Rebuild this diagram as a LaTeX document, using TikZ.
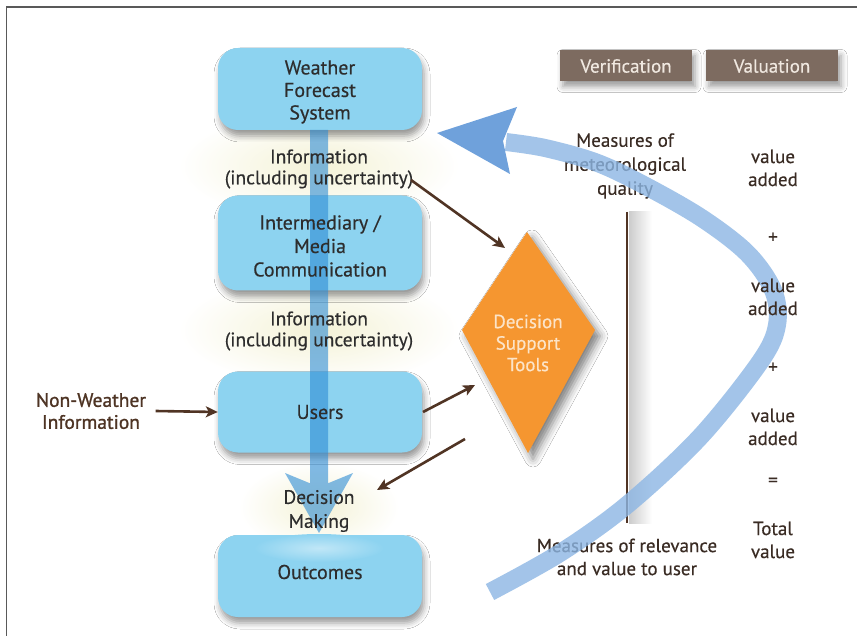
\documentclass[tikz,border=0pt]{standalone}
\usepackage{fontspec}
\setmainfont{PT Sans}[FakeBold=0.35]
\newfontfamily\nwfont{PT Sans}[FakeBold=1.1]
\usetikzlibrary{arrows.meta,shadows.blur}
\definecolor{boxblue}{RGB}{141,211,240}
\definecolor{barblue}{RGB}{45,140,212}
\definecolor{curveblue}{RGB}{140,182,228}
\definecolor{headblue}{RGB}{104,156,218}
\definecolor{brownbox}{RGB}{125,107,96}
\definecolor{arrbrown}{RGB}{80,52,36}
\definecolor{dstorange}{RGB}{245,150,48}
\definecolor{txtgray}{RGB}{45,45,45}
\definecolor{txtbrown}{RGB}{58,44,36}
\definecolor{nwbrown}{RGB}{78,52,36}
\definecolor{glow}{RGB}{244,242,214}
\definecolor{dsttext}{RGB}{252,228,200}
\definecolor{vertext}{RGB}{240,232,224}
\tikzset{
  bluebox/.style={rounded corners=20pt, minimum width=204pt, fill=boxblue,
    blur shadow={shadow xshift=2pt, shadow yshift=-6pt, shadow blur radius=6pt, shadow opacity=40}},
  boxtxt/.style={text=txtgray, align=center, font=\fontsize{20}{22.5}\selectfont},
  infolbl/.style={text=txtgray, align=center, font=\fontsize{19.5}{21}\selectfont},
  rlbl/.style={text=txtbrown, align=center, font=\fontsize{19}{23}\selectfont},
  brownlbl/.style={fill=brownbox, text=vertext, minimum width=132pt, minimum height=31pt,
    font=\fontsize{19}{20}\selectfont,
    blur shadow={shadow xshift=3pt, shadow yshift=-5pt, shadow blur radius=6pt, shadow opacity=40}},
  barr/.style={draw=arrbrown, line width=2.6pt, -{Stealth[length=12pt,width=11pt,inset=3pt]}},
}
\begin{document}
\begin{tikzpicture}[x=1pt,y=-1pt]
\useasboundingbox (0,0) rectangle (857,636);
\fill[white] (0,0) rectangle (857,636);
\draw[line width=1.3pt, black!65] (6.5,636) -- (6.5,7) -- (857,7);

% glows
\shade[inner color=glow, outer color=white] (319,166) ellipse [x radius=140, y radius=55];
\shade[inner color=glow, outer color=white] (319,330) ellipse [x radius=140, y radius=55];
\shade[inner color=glow, outer color=white] (319,507) ellipse [x radius=80, y radius=45];

% blue boxes
\node[bluebox, minimum height=82pt] (wfs) at (320,89) {};
\node[bluebox, minimum height=95pt] (imc) at (320,243) {};
\node[bluebox, minimum height=81pt] (usr) at (320,412) {};
\node[bluebox, minimum height=82pt] (out) at (320,576) {};
\shade[inner color=white!45!boxblue, outer color=boxblue] (319,548) ellipse [x radius=65, y radius=14];

% central flow bar (bar and head as one shape)
\fill[barblue, opacity=0.6] (310,130) -- (310,483.3) -- (285,473) -- (319,533)
  -- (353,473) -- (328,483.3) -- (328,130) -- cycle;

% box texts
\node[boxtxt] (wfs-t) at ([yshift=-3pt]wfs.center) {Weather\\Forecast\\System};
\node[boxtxt, font=\fontsize{20}{23.5}\selectfont] (imc-t) at ([yshift=-3pt]imc.center) {Intermediary /\\Media\\Communication};
\node[boxtxt] (usr-t) at (usr.center) {Users};
\node[boxtxt] (out-t) at ([yshift=4pt]out.center) {Outcomes};

% labels on the flow
\node[infolbl] (info1) at (319,169) {Information\\(including uncertainty)};
\node[infolbl] (info2) at (319,331) {Information\\(including uncertainty)};
\node[infolbl, font=\fontsize{19.5}{24}\selectfont] (dm) at (319,511) {Decision\\Making};
\node[text=nwbrown, align=center, font=\nwfont\fontsize{19.5}{22}\selectfont] (nw) at (91,411) {Non-Weather\\Information};

% decision support tools (kite)
\coordinate (dT) at (527,232);
\coordinate (dL) at (462,330);
\coordinate (dB) at (528,453);
\coordinate (dR) at (595,330);
\fill[dstorange, blur shadow={shadow xshift=5pt, shadow yshift=-6pt, shadow blur radius=8pt, shadow opacity=50}]
  (dT) -- (dR) -- (dB) -- (dL) -- cycle;
\node[text=dsttext, align=center, font=\fontsize{19}{21.5}\selectfont] (dst) at (528,343) {Decision\\Support\\Tools};

% brown arrows
\coordinate (a2s) at (411,180);
\coordinate (a2e) at (505,248);
\coordinate (a3s) at (423,412);
\coordinate (a3e) at (475,385);
\coordinate (a4s) at (465,439);
\coordinate (a4e) at (377,490);
\draw[barr] ([xshift=6pt]nw.east) -- (usr.west);
\draw[barr] (a2s) -- (a2e);
\draw[barr] (a3s) -- (a3e);
\draw[barr] (a4s) -- (a4e);

% verification / valuation
\node[brownlbl] (ver) at (626,66) {Verification};
\node[brownlbl] (val) at (772,66) {Valuation};

% measures
\node[rlbl, font=\fontsize{19}{24}\selectfont] (mq) at (625,166) {Measures of\\meteorological\\quality};
\node[rlbl] (mr) at (627,557) {Measures of relevance\\and value to user};
\coordinate (lt) at (627,212);
\coordinate (lb) at (627,523);
\shade[left color=black!20, right color=white] (629,212) rectangle (652,523);
\draw[arrbrown, line width=2.6pt] (lt) -- (lb);

% big curved arrow
\coordinate (ctip) at (437,133);
\coordinate (cwt) at (517,107);
\coordinate (cn) at (503,141);
\coordinate (cwb) at (510,174);
\draw[curveblue, opacity=0.8, line width=18pt]
  plot[smooth, tension=0.55] coordinates {(490,592) (560,553) (627,505) (700,437) (760,362) (777,325) (773,290) (747,253) (700,217) (640,183) (595,162) (545,148) (506,142)};
\fill[headblue, opacity=0.95] (ctip) -- (cwt) -- (cn) -- (cwb) -- cycle;

% value column
\node[rlbl] (v1) at (773,168) {value\\added};
\node[rlbl] (p1) at (773,238) {+};
\node[rlbl] (v2) at (773,297) {value\\added};
\node[rlbl] (p2) at (773,368) {+};
\node[rlbl] (v3) at (773,427) {value\\added};
\node[rlbl] (eq) at (773,482) {=};
\node[rlbl] (tv) at (773,540) {Total\\value};
\end{tikzpicture}
\end{document}
